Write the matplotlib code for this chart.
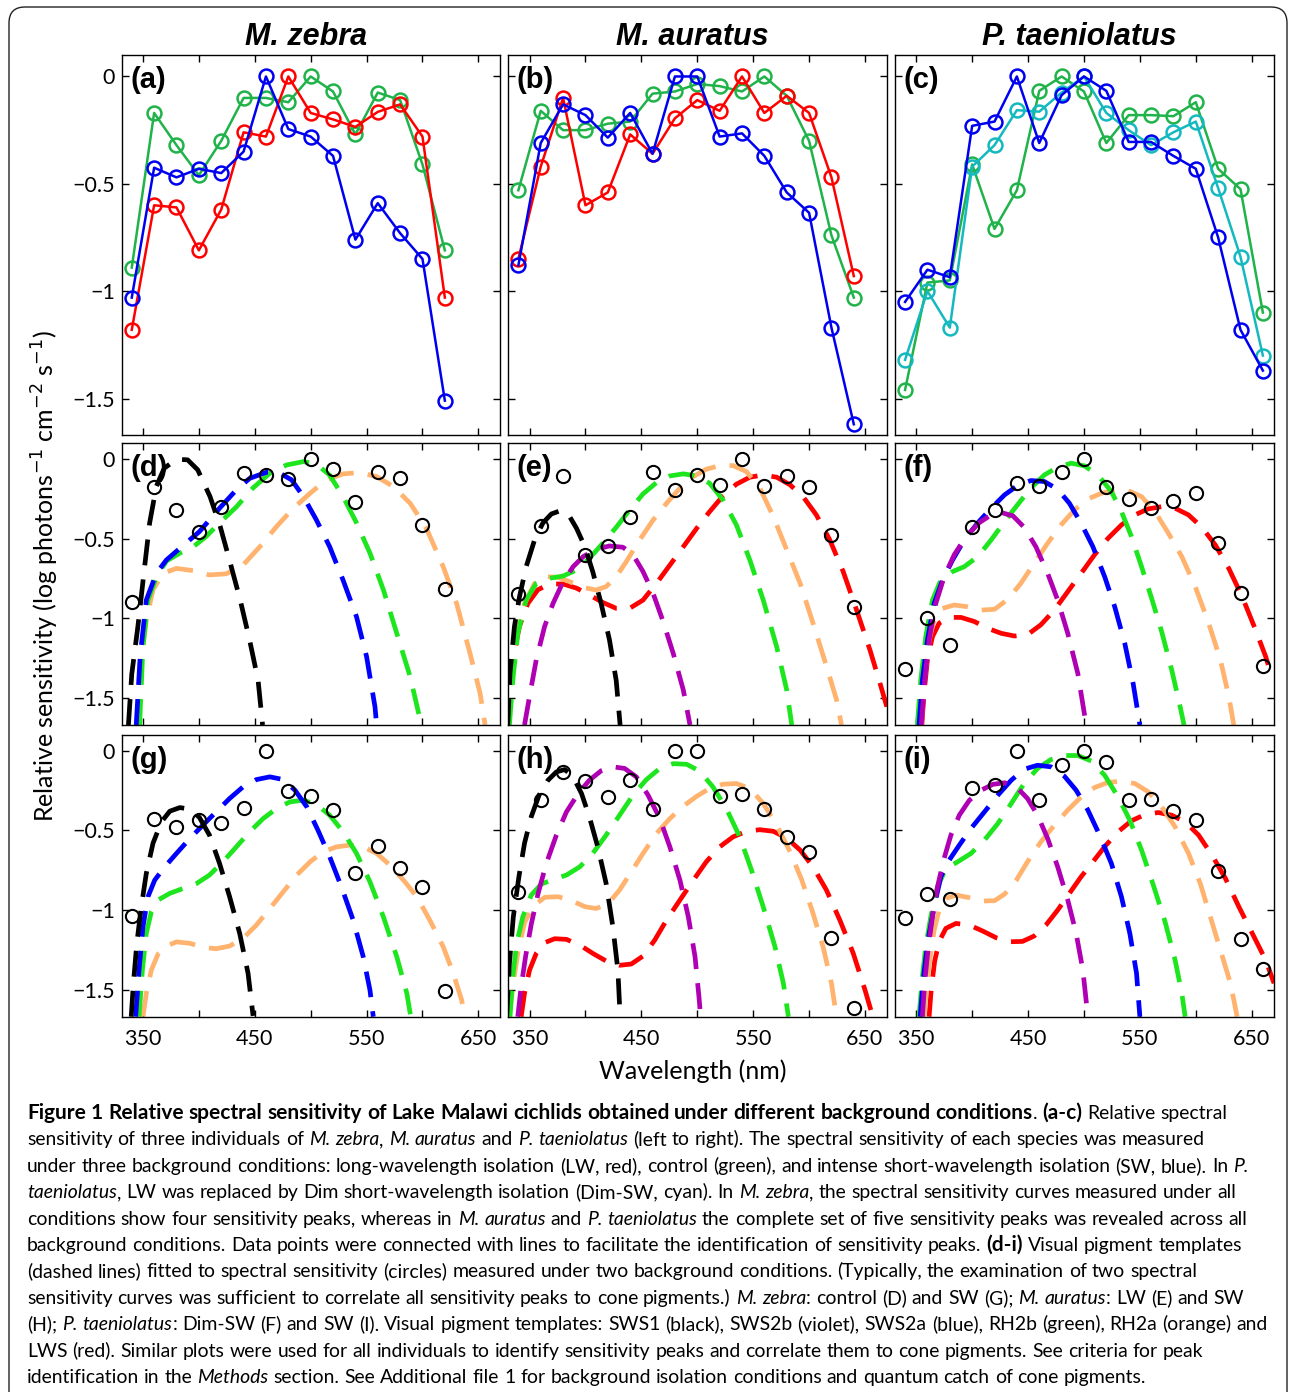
import matplotlib
matplotlib.use("Agg")
import matplotlib.pyplot as plt
from matplotlib.patches import FancyBboxPatch

# ---------------- data ----------------
wl15 = [340, 360, 380, 400, 420, 440, 460, 480, 500, 520, 540, 560, 580, 600, 620]
wl16 = wl15 + [640]
wl17 = wl16 + [660]

# (a) M. zebra
a_green = [-0.89, -0.17, -0.32, -0.46, -0.30, -0.10, -0.10, -0.12, 0.0, -0.07, -0.27, -0.075, -0.11, -0.41, -0.81]
a_red = [-1.18, -0.60, -0.61, -0.81, -0.62, -0.26, -0.28, 0.0, -0.17, -0.20, -0.235, -0.165, -0.13, -0.28, -1.03]
a_blue = [-1.03, -0.425, -0.47, -0.43, -0.45, -0.35, 0.0, -0.245, -0.28, -0.37, -0.76, -0.59, -0.73, -0.85, -1.51]
# (b) M. auratus
b_green = [-0.53, -0.16, -0.25, -0.25, -0.22, -0.21, -0.08, -0.07, -0.035, -0.045, -0.07, 0.0, -0.09, -0.30, -0.74, -1.03]
b_red = [-0.85, -0.42, -0.10, -0.60, -0.54, -0.27, -0.36, -0.195, -0.11, -0.16, 0.0, -0.17, -0.09, -0.17, -0.47, -0.93]
b_blue = [-0.88, -0.31, -0.13, -0.18, -0.285, -0.17, -0.36, 0.0, 0.0, -0.28, -0.265, -0.37, -0.54, -0.635, -1.17, -1.62]
# (c) P. taeniolatus
c_green = [-1.46, -0.96, -0.95, -0.41, -0.71, -0.53, -0.067, 0.0, -0.07, -0.31, -0.18, -0.18, -0.185, -0.12, -0.43, -0.525, -1.10]
c_cyan = [-1.32, -1.0, -1.17, -0.42, -0.32, -0.157, -0.164, -0.075, 0.0, -0.17, -0.25, -0.32, -0.26, -0.21, -0.52, -0.84, -1.30]
c_blue = [-1.05, -0.90, -0.935, -0.23, -0.21, 0.0, -0.31, -0.087, 0.0, -0.067, -0.305, -0.305, -0.37, -0.43, -0.75, -1.18, -1.37]

# measured points in (d)-(i)
d_circ = [-0.895, -0.172, -0.319, -0.455, -0.298, -0.088, -0.099, -0.126, 0.0, -0.063, -0.27, -0.078, -0.12, -0.413, -0.818]
e_circ = [-0.847, -0.42, -0.105, -0.60, -0.545, -0.365, -0.078, -0.193, -0.099, -0.161, 0.0, -0.168, -0.105, -0.172, -0.476, -0.927]
f_circ = [-1.32, -1.0, -1.17, -0.423, -0.319, -0.151, -0.168, -0.078, 0.0, -0.172, -0.252, -0.308, -0.262, -0.214, -0.524, -0.839, -1.30]
g_circ = [-1.04, -0.425, -0.477, -0.435, -0.456, -0.356, 0.0, -0.251, -0.282, -0.372, -0.764, -0.596, -0.734, -0.854, -1.51]
h_circ = [-0.885, -0.31, -0.132, -0.188, -0.289, -0.18, -0.366, 0.0, 0.0, -0.285, -0.272, -0.366, -0.544, -0.638, -1.174, -1.617]
i_circ = [-1.052, -0.90, -0.933, -0.236, -0.215, 0.0, -0.31, -0.09, 0.0, -0.069, -0.31, -0.305, -0.377, -0.435, -0.755, -1.184, -1.37]

# pigment templates (nm, log sensitivity)
d_sws1_nm = [337, 340, 345.5, 351.5, 356, 362, 369, 380, 390, 399, 410, 419, 428, 437, 445.5, 453, 457]
d_sws1_v = [-1.67, -1.35, -1.05, -0.675, -0.40, -0.17, -0.057, 0.0, -0.004, -0.067, -0.235, -0.42, -0.65, -0.885, -1.14, -1.39, -1.67]
d_sws2a_nm = [344, 347.5, 353, 362, 371, 383, 400.5, 418.5, 433.5, 445.5, 460.5, 472.5, 483, 493.5, 505, 517, 529, 541, 550, 557.5, 559]
d_sws2a_v = [-1.67, -1.24, -0.885, -0.717, -0.633, -0.56, -0.455, -0.308, -0.193, -0.12, -0.082, -0.088, -0.13, -0.235, -0.38, -0.55, -0.76, -0.99, -1.24, -1.555, -1.67]
d_rh2b_nm = [347, 350, 354.5, 362, 371, 383, 395, 406.5, 418.5, 433.5, 448.5, 463.5, 478.5, 493.5, 505, 517, 529, 541, 553, 565, 577, 589, 599]
d_rh2b_v = [-1.67, -1.18, -0.885, -0.74, -0.64, -0.59, -0.55, -0.486, -0.40, -0.30, -0.18, -0.088, -0.036, -0.015, -0.03, -0.10, -0.235, -0.40, -0.59, -0.82, -1.094, -1.367, -1.67]
d_rh2a_nm = [345.5, 348.5, 353, 359, 368, 380, 395, 409.5, 424.5, 439.5, 454.5, 469.5, 484.5, 499.5, 514, 529, 544, 559, 574, 589, 603.5, 618.5, 630.5, 642.5, 651.5, 656]
d_rh2a_v = [-1.67, -1.26, -1.01, -0.82, -0.717, -0.686, -0.70, -0.727, -0.72, -0.665, -0.55, -0.423, -0.308, -0.214, -0.13, -0.092, -0.084, -0.109, -0.172, -0.277, -0.434, -0.675, -0.906, -1.22, -1.47, -1.67]

e_sws1_nm = [330.5, 332.5, 336.5, 341, 347, 354.5, 362, 369.5, 377, 384.5, 392, 399.5, 406.5, 414, 421.5, 427.5, 431]
e_sws1_v = [-1.67, -1.346, -1.05, -0.864, -0.675, -0.507, -0.40, -0.344, -0.325, -0.344, -0.434, -0.55, -0.706, -0.906, -1.136, -1.39, -1.67]
e_sws2b_nm = [345.5, 350, 356, 363.5, 371, 380, 389, 398, 409.5, 421.5, 433.5, 442.5, 451.5, 460.5, 469.5, 478.5, 487.5, 493.5]
e_sws2b_v = [-1.67, -1.49, -1.26, -1.05, -0.906, -0.77, -0.675, -0.612, -0.566, -0.545, -0.553, -0.60, -0.706, -0.843, -1.02, -1.22, -1.45, -1.67]
e_rh2b_nm = [332, 335, 339.5, 347, 356, 368, 380, 392, 403.5, 415.5, 427.5, 439.5, 451.5, 463.5, 475.5, 487.5, 499.5, 511, 523, 535, 547, 559, 571, 580, 584.5]
e_rh2b_v = [-1.67, -1.39, -1.094, -0.885, -0.78, -0.748, -0.734, -0.696, -0.623, -0.528, -0.428, -0.319, -0.218, -0.147, -0.105, -0.092, -0.105, -0.151, -0.256, -0.413, -0.633, -0.885, -1.178, -1.45, -1.67]
e_rh2a_nm = [330.5, 333.5, 338, 345.5, 354.5, 365, 375.5, 386, 398, 409.5, 418.5, 427.5, 436.5, 448.5, 460.5, 472.5, 484.5, 496.5, 508, 520, 532, 544, 556, 568, 580, 592, 603.5, 615.5, 624.5, 629]
e_rh2a_v = [-1.67, -1.39, -1.115, -0.906, -0.78, -0.738, -0.742, -0.77, -0.805, -0.822, -0.80, -0.738, -0.644, -0.507, -0.382, -0.277, -0.182, -0.109, -0.063, -0.04, -0.04, -0.078, -0.182, -0.36, -0.57, -0.78, -1.03, -1.30, -1.51, -1.67]
e_lws_nm = [329.5, 332, 335.5, 341, 348.5, 357.5, 368, 380, 392, 403.5, 415.5, 427.5, 439.5, 451.5, 463.5, 475.5, 487.5, 499.5, 511, 523, 535, 547, 559, 571, 583, 595, 606.5, 618.5, 630.5, 642.5, 654.5, 663.5, 669.5]
e_lws_v = [-1.67, -1.47, -1.24, -1.05, -0.906, -0.82, -0.784, -0.784, -0.81, -0.853, -0.90, -0.937, -0.937, -0.885, -0.78, -0.665, -0.55, -0.434, -0.33, -0.23, -0.157, -0.113, -0.099, -0.113, -0.161, -0.239, -0.35, -0.507, -0.706, -0.948, -1.20, -1.41, -1.555]

f_sws2b_nm = [354.5, 357.5, 361.5, 367.5, 375, 384, 394.5, 406.5, 417, 426, 436.5, 446.5, 457, 467.5, 476.5, 485.5, 494.5, 502]
f_sws2b_v = [-1.67, -1.39, -1.136, -0.906, -0.738, -0.60, -0.486, -0.398, -0.35, -0.335, -0.356, -0.428, -0.55, -0.717, -0.885, -1.094, -1.346, -1.67]
f_sws2a_nm = [352.5, 355.5, 360, 366, 373.5, 382.5, 393, 405, 417, 429, 440.5, 452.5, 464.5, 476.5, 487, 497.5, 508, 518.5, 527.5, 536.5, 544, 550]
f_sws2a_v = [-1.67, -1.39, -1.136, -0.906, -0.759, -0.633, -0.507, -0.40, -0.308, -0.224, -0.166, -0.134, -0.14, -0.189, -0.277, -0.403, -0.55, -0.738, -0.927, -1.157, -1.41, -1.67]
f_rh2b_nm = [351, 354, 358.5, 364.5, 372, 382.5, 393, 405, 417, 429, 440.5, 452.5, 464.5, 476.5, 488.5, 500.5, 512.5, 524.5, 533.5, 542.5, 551.5, 560.5, 569.5, 578.5, 586, 589.5]
f_rh2b_v = [-1.67, -1.39, -1.115, -0.885, -0.759, -0.706, -0.675, -0.612, -0.507, -0.392, -0.287, -0.182, -0.099, -0.05, -0.025, -0.042, -0.099, -0.203, -0.329, -0.486, -0.675, -0.874, -1.084, -1.325, -1.555, -1.67]
f_rh2a_nm = [354.5, 357, 361.5, 366, 373.5, 384, 396, 408, 420, 432, 443.5, 455.5, 467.5, 479.5, 491.5, 503.5, 515.5, 527.5, 539.5, 551.5, 563.5, 575.5, 587.5, 599.5, 611.5, 622, 629.5, 634]
f_rh2a_v = [-1.67, -1.39, -1.136, -1.01, -0.937, -0.916, -0.927, -0.948, -0.943, -0.88, -0.78, -0.654, -0.528, -0.413, -0.319, -0.25, -0.214, -0.193, -0.197, -0.235, -0.329, -0.465, -0.612, -0.80, -1.03, -1.26, -1.49, -1.67]
f_lws_nm = [355, 357, 360, 364.5, 370.5, 379.5, 390, 402, 414, 426, 438, 450, 461.5, 473.5, 485.5, 497.5, 509.5, 521.5, 533.5, 545.5, 557.5, 569.5, 581.5, 593.5, 605.5, 617.5, 629.5, 641.5, 653.5, 662.5, 668.5]
f_lws_v = [-1.67, -1.47, -1.26, -1.115, -1.03, -0.994, -0.994, -1.02, -1.063, -1.094, -1.111, -1.10, -1.04, -0.948, -0.832, -0.717, -0.60, -0.497, -0.413, -0.35, -0.312, -0.298, -0.308, -0.35, -0.428, -0.539, -0.686, -0.864, -1.073, -1.24, -1.377]

g_sws1_nm = [339.5, 341.5, 344.5, 348.5, 353, 359, 366.5, 374, 383, 392, 400.5, 409.5, 418.5, 427.5, 436.5, 444, 448.5]
g_sws1_v = [-1.67, -1.46, -1.21, -0.98, -0.77, -0.58, -0.446, -0.379, -0.356, -0.366, -0.418, -0.529, -0.707, -0.916, -1.146, -1.397, -1.665]
g_sws2a_nm = [343.5, 346.5, 350, 354.5, 360.5, 369.5, 380, 392, 403.5, 415.5, 427.5, 439.5, 451.5, 463.5, 475.5, 486, 496.5, 506.5, 517, 527.5, 538, 547, 553, 556]
g_sws2a_v = [-1.67, -1.377, -1.105, -0.916, -0.812, -0.728, -0.644, -0.55, -0.467, -0.383, -0.299, -0.226, -0.18, -0.163, -0.18, -0.247, -0.351, -0.498, -0.665, -0.854, -1.063, -1.293, -1.502, -1.67]
g_rh2b_nm = [346.5, 349.5, 353, 357.5, 363.5, 374, 386, 398, 409.5, 421.5, 433.5, 445.5, 457.5, 469.5, 481.5, 493.5, 505, 517, 529, 541, 553, 565, 577, 586, 589.5]
g_rh2b_v = [-1.67, -1.377, -1.146, -1.01, -0.937, -0.895, -0.864, -0.833, -0.78, -0.697, -0.603, -0.508, -0.425, -0.362, -0.32, -0.31, -0.335, -0.404, -0.508, -0.644, -0.822, -1.042, -1.293, -1.523, -1.67]
g_rh2a_nm = [350, 353, 357.5, 363.5, 371, 380, 392, 403.5, 415.5, 427.5, 439.5, 451.5, 463.5, 475.5, 487.5, 499.5, 511, 523, 535, 547, 559, 571, 583, 595, 606.5, 618.5, 627.5, 635, 638]
g_rh2a_v = [-1.67, -1.523, -1.377, -1.276, -1.226, -1.20, -1.209, -1.234, -1.243, -1.226, -1.178, -1.094, -0.99, -0.885, -0.78, -0.697, -0.634, -0.603, -0.592, -0.603, -0.644, -0.718, -0.812, -0.916, -1.063, -1.23, -1.397, -1.565, -1.67]

h_sws1_nm = [329.5, 332, 335.5, 340.5, 345.5, 351.5, 358.5, 366.5, 374, 381.5, 389, 396.5, 403.5, 411, 418.5, 424.5, 429, 431]
h_sws1_v = [-1.67, -1.335, -1.042, -0.79, -0.58, -0.414, -0.278, -0.184, -0.132, -0.117, -0.163, -0.268, -0.414, -0.603, -0.833, -1.105, -1.377, -1.67]
h_sws2b_nm = [339.5, 342.5, 346.5, 351.5, 357.5, 365, 374, 383, 393.5, 403.5, 414, 424.5, 435, 445.5, 456, 466.5, 475.5, 484.5, 492, 498, 501.5, 503]
h_sws2b_v = [-1.67, -1.48, -1.29, -1.09, -0.90, -0.707, -0.529, -0.383, -0.268, -0.184, -0.125, -0.10, -0.11, -0.163, -0.278, -0.425, -0.603, -0.812, -1.042, -1.293, -1.544, -1.67]
h_rh2b_nm = [332.5, 335, 338.5, 344, 351.5, 360.5, 371, 383, 395, 406.5, 418.5, 430.5, 442.5, 454.5, 466.5, 478.5, 490.5, 502, 514, 526, 538, 548.5, 559, 569.5, 577, 581.5]
h_rh2b_v = [-1.67, -1.418, -1.209, -1.042, -0.906, -0.837, -0.808, -0.78, -0.728, -0.644, -0.529, -0.404, -0.278, -0.18, -0.11, -0.08, -0.084, -0.126, -0.226, -0.362, -0.54, -0.749, -0.98, -1.23, -1.46, -1.67]
h_rh2a_nm = [332, 335, 339.5, 345.5, 353, 363.5, 375.5, 387.5, 399.5, 409.5, 420, 430.5, 441, 451.5, 463.5, 475.5, 487.5, 499.5, 511, 523, 535, 547, 559, 571, 583, 593.5, 603.5, 612.5, 620, 624.5]
h_rh2a_v = [-1.67, -1.48, -1.27, -1.08, -0.977, -0.92, -0.916, -0.94, -0.979, -0.99, -0.962, -0.874, -0.76, -0.644, -0.519, -0.425, -0.347, -0.285, -0.236, -0.209, -0.205, -0.236, -0.33, -0.466, -0.634, -0.812, -1.02, -1.23, -1.46, -1.67]
h_lws_nm = [342.5, 345.5, 350, 356, 363.5, 372.5, 383, 395, 406.5, 418.5, 430.5, 441, 451.5, 462, 472.5, 484.5, 496.5, 508, 520, 532, 544, 556, 568, 580, 592, 603.5, 615.5, 627.5, 639.5, 650, 657]
h_lws_v = [-1.67, -1.523, -1.377, -1.272, -1.205, -1.18, -1.184, -1.22, -1.272, -1.32, -1.347, -1.339, -1.289, -1.188, -1.063, -0.937, -0.812, -0.697, -0.603, -0.54, -0.505, -0.495, -0.505, -0.548, -0.623, -0.728, -0.874, -1.063, -1.272, -1.502, -1.67]

i_sws2b_nm = [355.5, 357.5, 360.5, 364.5, 369, 374.5, 381, 388.5, 397.5, 408, 418.5, 429, 439.5, 449.5, 458.5, 467.5, 476.5, 485.5, 493, 499, 503.5]
i_sws2b_v = [-1.67, -1.46, -1.25, -1.042, -0.854, -0.686, -0.529, -0.404, -0.31, -0.247, -0.21, -0.20, -0.226, -0.299, -0.404, -0.55, -0.728, -0.937, -1.146, -1.377, -1.67]
i_sws2a_nm = [353.5, 356.5, 360.5, 366, 372, 379.5, 388.5, 399, 411, 423, 435, 446.5, 458.5, 470.5, 482.5, 493, 503.5, 514, 524.5, 533.5, 541, 547, 550]
i_sws2a_v = [-1.67, -1.418, -1.188, -0.979, -0.791, -0.686, -0.592, -0.487, -0.383, -0.278, -0.184, -0.115, -0.09, -0.10, -0.159, -0.247, -0.372, -0.529, -0.707, -0.916, -1.146, -1.397, -1.67]
i_rh2b_nm = [352.5, 355.5, 358.5, 363, 369, 376.5, 387, 399, 411, 423, 435, 446.5, 458.5, 470.5, 482.5, 494.5, 506.5, 518.5, 530.5, 541, 551.5, 562, 572.5, 581.5, 587.5, 590.5]
i_rh2b_v = [-1.67, -1.418, -1.23, -1.042, -0.854, -0.739, -0.697, -0.644, -0.56, -0.456, -0.33, -0.205, -0.11, -0.054, -0.029, -0.029, -0.063, -0.153, -0.289, -0.435, -0.623, -0.843, -1.073, -1.314, -1.523, -1.67]
i_rh2a_nm = [357, 359.5, 362.5, 366, 370.5, 376.5, 385.5, 397.5, 409.5, 420, 429, 439.5, 449.5, 461.5, 473.5, 485.5, 497.5, 509.5, 521.5, 533.5, 545.5, 557.5, 569.5, 581.5, 593.5, 604, 613, 622, 631, 637]
i_rh2a_v = [-1.67, -1.46, -1.293, -1.126, -1.0, -0.927, -0.906, -0.922, -0.943, -0.941, -0.90, -0.812, -0.696, -0.571, -0.467, -0.372, -0.289, -0.23, -0.198, -0.19, -0.205, -0.257, -0.351, -0.477, -0.644, -0.833, -1.042, -1.251, -1.46, -1.67]
i_lws_nm = [361.5, 363.5, 366.5, 370.5, 376.5, 385.5, 397.5, 409.5, 421.5, 433.5, 445, 455.5, 466, 476.5, 487, 497.5, 508, 518.5, 530.5, 542.5, 554.5, 566.5, 578.5, 590.5, 602.5, 614.5, 626.5, 638.5, 650.5, 662.5, 670]
i_lws_v = [-1.67, -1.49, -1.32, -1.197, -1.115, -1.084, -1.094, -1.132, -1.174, -1.199, -1.197, -1.163, -1.094, -1.0, -0.895, -0.79, -0.697, -0.602, -0.508, -0.439, -0.40, -0.387, -0.404, -0.446, -0.529, -0.655, -0.801, -0.979, -1.146, -1.314, -1.46]

species = ["M. zebra", "M. auratus", "P. taeniolatus"]
xtick_vals = [350, 400, 450, 500, 550, 600, 650]
xtick_text = ["350", "", "450", "", "550", "", "650"]
ytick_vals = [-1.5, -1.0, -0.5, 0.0]
ytick_text = ["\u22121.5", "\u22121", "\u22120.5", "0"]

# ---------------- styling ----------------
pig_col = {"sws1": "black", "sws2b": "#b000b4", "sws2a": "#0000ff",
           "rh2b": "#1ee61e", "rh2a": "#ffb36e", "lws": "#ff0000"}
col_red, col_green, col_blue, col_cyan = "#ff0000", "#1fb34a", "#0000f0", "#14b9c0"

plt.rcParams['font.family'] = ['Lato', 'DejaVu Sans']
W, H = 1290, 1392
fig = plt.figure(figsize=(W / 100, H / 100), dpi=100)

# background canvas in pixel units (border + caption)
bg = fig.add_axes([0, 0, 1, 1], zorder=-5)
bg.set_xlim(0, W)
bg.set_ylim(H, 0)
bg.axis('off')
bg.add_patch(FancyBboxPatch((9, 7), 1278, 1460, boxstyle="round,pad=0,rounding_size=16",
                            fc='white', ec='#222222', lw=1.0))

col_left = [121.7, 508.3, 895.0]
col_w = 378.5
rows = [(55, 435), (443.3, 725), (735, 1016.7)]


def make_ax(r, c):
    top, bot = rows[r]
    ax = fig.add_axes([col_left[c] / W, 1 - bot / H, col_w / W, (bot - top) / H])
    ax.set_xlim(331, 669.5)
    ax.set_ylim(-1.67, 0.10)
    ax.set_xticks(xtick_vals)
    ax.set_yticks(ytick_vals)
    ax.tick_params(direction='in', top=True, right=True, length=5, width=1,
                   labelsize=15.5, color='black')
    ax.tick_params(axis='y', pad=5)
    ax.tick_params(axis='x', pad=9)
    if r == 2:
        ax.set_xticklabels(xtick_text)
    else:
        ax.set_xticklabels([])
    if c == 0:
        ax.set_yticklabels(ytick_text)
    else:
        ax.set_yticklabels([])
    for s in ax.spines.values():
        s.set_linewidth(1.0)
    letter = "abcdefghi"[3 * r + c]
    ax.annotate("(%s)" % letter, xy=(0, 1), xycoords='axes fraction', xytext=(6, -8),
                textcoords='offset points', ha='left', va='top', fontsize=21,
                fontweight='bold', family=['Liberation Sans', 'DejaVu Sans'], zorder=10)
    return ax


def lines_panel(ax, series):
    for wl, vals, col in series:
        ax.plot(wl, vals, '-o', color=col, lw=1.8, ms=10, mfc='none', mew=1.8)


def template_panel(ax, curves, wl, circ):
    for nm, v, key in curves:
        ax.plot(nm, v, color=pig_col[key], lw=3.4, dashes=(5.5, 3), solid_capstyle='butt')
    ax.plot(wl, circ, 'o', mfc='none', mec='black', ms=9.5, mew=1.5, zorder=5)


ax = make_ax(0, 0)
lines_panel(ax, [(wl15, a_green, col_green), (wl15, a_red, col_red), (wl15, a_blue, col_blue)])
ax = make_ax(0, 1)
lines_panel(ax, [(wl16, b_green, col_green), (wl16, b_red, col_red), (wl16, b_blue, col_blue)])
ax = make_ax(0, 2)
lines_panel(ax, [(wl17, c_green, col_green), (wl17, c_cyan, col_cyan), (wl17, c_blue, col_blue)])

ax = make_ax(1, 0)
template_panel(ax, [(d_rh2a_nm, d_rh2a_v, "rh2a"), (d_rh2b_nm, d_rh2b_v, "rh2b"),
                    (d_sws2a_nm, d_sws2a_v, "sws2a"), (d_sws1_nm, d_sws1_v, "sws1")], wl15, d_circ)
ax = make_ax(1, 1)
template_panel(ax, [(e_lws_nm, e_lws_v, "lws"), (e_rh2a_nm, e_rh2a_v, "rh2a"), (e_rh2b_nm, e_rh2b_v, "rh2b"),
                    (e_sws2b_nm, e_sws2b_v, "sws2b"), (e_sws1_nm, e_sws1_v, "sws1")], wl16, e_circ)
ax = make_ax(1, 2)
template_panel(ax, [(f_lws_nm, f_lws_v, "lws"), (f_rh2a_nm, f_rh2a_v, "rh2a"), (f_rh2b_nm, f_rh2b_v, "rh2b"),
                    (f_sws2a_nm, f_sws2a_v, "sws2a"), (f_sws2b_nm, f_sws2b_v, "sws2b")], wl17, f_circ)
ax = make_ax(2, 0)
template_panel(ax, [(g_rh2a_nm, g_rh2a_v, "rh2a"), (g_rh2b_nm, g_rh2b_v, "rh2b"),
                    (g_sws2a_nm, g_sws2a_v, "sws2a"), (g_sws1_nm, g_sws1_v, "sws1")], wl15, g_circ)
ax = make_ax(2, 1)
template_panel(ax, [(h_lws_nm, h_lws_v, "lws"), (h_rh2a_nm, h_rh2a_v, "rh2a"), (h_rh2b_nm, h_rh2b_v, "rh2b"),
                    (h_sws2b_nm, h_sws2b_v, "sws2b"), (h_sws1_nm, h_sws1_v, "sws1")], wl16, h_circ)
ax = make_ax(2, 2)
template_panel(ax, [(i_lws_nm, i_lws_v, "lws"), (i_rh2a_nm, i_rh2a_v, "rh2a"), (i_rh2b_nm, i_rh2b_v, "rh2b"),
                    (i_sws2a_nm, i_sws2a_v, "sws2a"), (i_sws2b_nm, i_sws2b_v, "sws2b")], wl17, i_circ)

# column titles and shared axis labels
for k, name in enumerate(species):
    fig.text((col_left[k] + col_w / 2 - 5) / W, 1 - 37 / H, name, ha='center', va='center',
             fontsize=22, fontweight='bold', fontstyle='italic',
             family=['Liberation Sans', 'DejaVu Sans'])
fig.text(45 / W, 1 - 576 / H,
         r"Relative sensitivity (log photons$^{-1}$ cm$^{-2}$ s$^{-1}$)",
         rotation=90, ha='center', va='center', fontsize=18)
fig.text(693 / W, 1 - 1071 / H, "Wavelength (nm)", ha='center', va='center', fontsize=18)

# ---------------- caption ----------------
caption = [
    [("Figure 1 Relative spectral sensitivity of Lake Malawi cichlids obtained under different background conditions", 'b'),
     (". ", 'n'), ("(a-c)", 'b'), (" Relative spectral", 'n')],
    [("sensitivity of three individuals of ", 'n'), ("M. zebra", 'i'), (", ", 'n'), ("M. auratus", 'i'),
     (" and ", 'n'), ("P. taeniolatus", 'i'),
     (" (left to right). The spectral sensitivity of each species was measured", 'n')],
    [("under three background conditions: long-wavelength isolation (LW, red), control (green), and intense "
      "short-wavelength isolation (SW, blue). In ", 'n'), ("P.", 'i')],
    [("taeniolatus", 'i'), (", LW was replaced by Dim short-wavelength isolation (Dim-SW, cyan). In ", 'n'),
     ("M. zebra", 'i'), (", the spectral sensitivity curves measured under all", 'n')],
    [("conditions show four sensitivity peaks, whereas in ", 'n'), ("M. auratus", 'i'), (" and ", 'n'),
     ("P. taeniolatus", 'i'), (" the complete set of five sensitivity peaks was revealed across all", 'n')],
    [("background conditions. Data points were connected with lines to facilitate the identification of "
      "sensitivity peaks. ", 'n'), ("(d-i)", 'b'), (" Visual pigment templates", 'n')],
    [("(dashed lines) fitted to spectral sensitivity (circles) measured under two background conditions. "
      "(Typically, the examination of two spectral", 'n')],
    [("sensitivity curves was sufficient to correlate all sensitivity peaks to cone pigments.) ", 'n'),
     ("M. zebra", 'i'), (": control (D) and SW (G); ", 'n'), ("M. auratus", 'i'), (": LW (E) and SW", 'n')],
    [("(H); ", 'n'), ("P. taeniolatus", 'i'),
     (": Dim-SW (F) and SW (I). Visual pigment templates: SWS1 (black), SWS2b (violet), SWS2a (blue), "
      "RH2b (green), RH2a (orange) and", 'n')],
    [("LWS (red). Similar plots were used for all individuals to identify sensitivity peaks and correlate "
      "them to cone pigments. See criteria for peak", 'n')],
    [("identification in the ", 'n'), ("Methods", 'i'),
     (" section. See Additional file 1 for background isolation conditions and quantum catch of cone pigments.", 'n')],
]

renderer = fig.canvas.get_renderer()


def style_kw(st):
    return dict(fontweight='bold' if st == 'b' else 'normal',
                fontstyle='italic' if st == 'i' else 'normal')


def text_w(s, size, st):
    t = bg.text(0, 0, s, fontsize=size, **style_kw(st))
    w = t.get_window_extent(renderer).width
    t.remove()
    return w


def put_line(parts, x0, y, size, bsize, keep=True):
    space = text_w("a a", size, 'n') - text_w("aa", size, 'n')
    x = x0
    pending = False
    for txt, st in parts:
        fs = bsize if st == 'b' else size
        for k, word in enumerate(txt.split(' ')):
            if k > 0:
                pending = True
            if word == '':
                continue
            if pending:
                x += space
                pending = False
            t = bg.text(x, y, word, fontsize=fs, ha='left', va='baseline', **style_kw(st))
            x += t.get_window_extent(renderer).width
            if not keep:
                t.remove()
    return x


cap_x0 = 27
# sizes chosen so the caption lines end where they do in the reference
trial = put_line(caption[8], cap_x0, 0, 10, 10, keep=False) - cap_x0
cap_size = 10 * 1244 / trial
trial_b = put_line(caption[0][:1], cap_x0, 0, cap_size, 10, keep=False) - cap_x0
bold_size = 10 * 1043 / trial_b
for n, parts in enumerate(caption):
    put_line(parts, cap_x0, 1119 + 26.4 * n, cap_size, bold_size)

fig.savefig("out.png", dpi=100)
